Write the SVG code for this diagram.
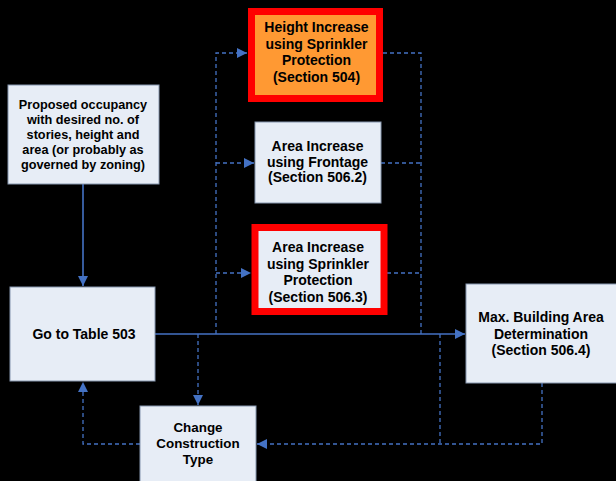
<svg xmlns="http://www.w3.org/2000/svg" width="616" height="481" viewBox="0 0 616 481">
<style>
.box{fill:#E7EDF6;stroke:#8696AE;stroke-width:1}
.t{font-family:"Liberation Sans",Arial,sans-serif;font-weight:bold;font-size:14px;fill:#000;text-anchor:middle}
.p{font-size:12.7px}
.c{font-size:13.4px}
.s{fill:none;stroke:#4472C4;stroke-width:1.6}
.d{fill:none;stroke:#4472C4;stroke-width:1.3;stroke-dasharray:4,3}
</style>
<defs>
<marker id="a" viewBox="0 0 10 10" refX="10" refY="5" markerWidth="10" markerHeight="10" markerUnits="userSpaceOnUse" orient="auto">
<path d="M0,0 L10,5 L0,10 z" fill="#4472C4"/>
</marker>
</defs>
<rect width="616" height="481" fill="#000"/>
<g id="connectors">
<line class="s" x1="83" y1="184" x2="83" y2="286" marker-end="url(#a)"/>
<line class="s" x1="155" y1="334" x2="465" y2="334" marker-end="url(#a)"/>
<path class="d" d="M216,334 V53 H247" marker-end="url(#a)"/>
<path class="d" d="M216,163 H254" marker-end="url(#a)"/>
<path class="d" d="M216,273 H251" marker-end="url(#a)"/>
<path class="d" d="M383,53 H421 V334"/>
<path class="d" d="M381,163 H421"/>
<path class="d" d="M387,273 H421"/>
<path class="d" d="M198,334 V405" marker-end="url(#a)"/>
<path class="d" d="M542,383 V444 H257" marker-end="url(#a)"/>
<path class="d" d="M440,334 V444"/>
<path class="d" d="M140,444 H83 V382" marker-end="url(#a)"/>
</g>
<g id="proposed">
<rect class="box" x="8" y="85" width="151" height="99"/>
<text class="t p" x="83" y="109">Proposed occupancy</text>
<text class="t p" x="83" y="124">with desired no. of</text>
<text class="t p" x="83" y="139">stories, height and</text>
<text class="t p" x="83" y="154">area (or probably as</text>
<text class="t p" x="83" y="168.5">governed by zoning)</text>
</g>
<g id="height">
<rect x="251.5" y="11.5" width="128" height="87" fill="#FF9933" stroke="#FF0000" stroke-width="7"/>
<text class="t" x="316.5" y="32">Height Increase</text>
<text class="t" x="316.5" y="48.5">using Sprinkler</text>
<text class="t" x="316.5" y="65">Protection</text>
<text class="t" x="316.5" y="81.5">(Section 504)</text>
</g>
<g id="frontage">
<rect class="box" x="255" y="122" width="126" height="81"/>
<text class="t" x="317.5" y="151">Area Increase</text>
<text class="t" x="317.5" y="167">using Frontage</text>
<text class="t" x="317.5" y="182">(Section 506.2)</text>
</g>
<g id="sprinkler">
<rect x="255" y="227.5" width="129" height="84" fill="#E7EDF6" stroke="#FF0000" stroke-width="7"/>
<text class="t" x="318" y="252">Area Increase</text>
<text class="t" x="318" y="268.5">using Sprinkler</text>
<text class="t" x="318" y="285">Protection</text>
<text class="t" x="318" y="301.5">(Section 506.3)</text>
</g>
<g id="table503">
<rect class="box" x="10" y="287" width="145" height="94"/>
<text class="t" x="84" y="338.5">Go to Table 503</text>
</g>
<g id="maxarea">
<rect class="box" x="466" y="284" width="160" height="99"/>
<text class="t" x="541" y="322">Max. Building Area</text>
<text class="t" x="541" y="338.5">Determination</text>
<text class="t" x="541" y="355">(Section 506.4)</text>
</g>
<g id="change">
<rect class="box" x="140" y="406" width="116" height="90"/>
<text class="t c" x="198" y="431.5">Change</text>
<text class="t c" x="198" y="448">Construction</text>
<text class="t c" x="198" y="464">Type</text>
</g>
</svg>
